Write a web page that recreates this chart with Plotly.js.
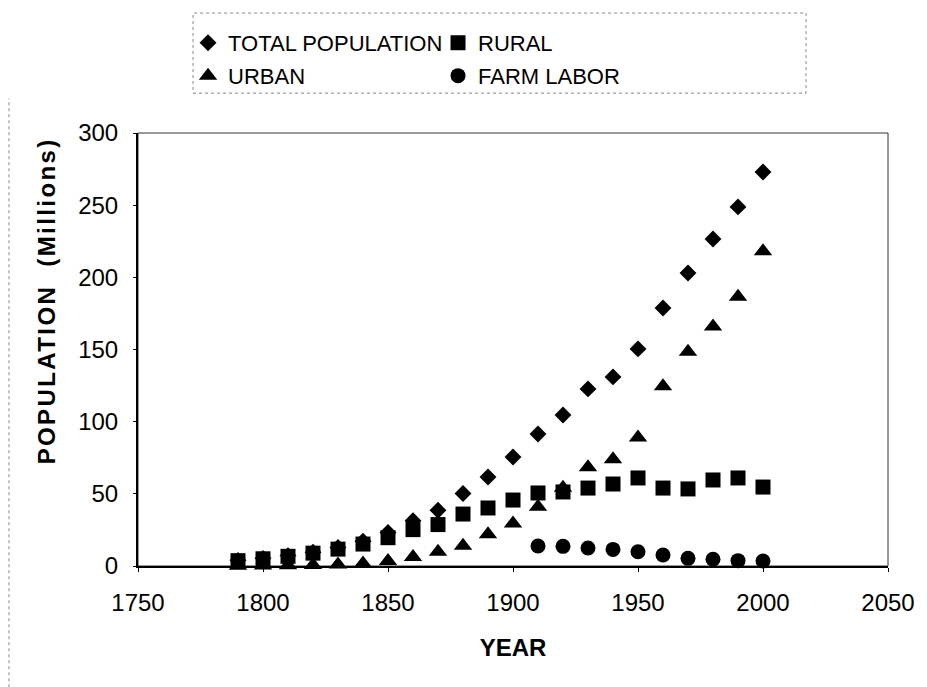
<!DOCTYPE html>
<html>
<head>
<meta charset="utf-8">
<script src="https://cdn.plot.ly/plotly-3.0.1.min.js"></script>
<style>
html,body{margin:0;padding:0;background:#fff;}
#chart{width:927px;height:687px;}
.ytitle-ann text{letter-spacing:2.4px;}
</style>
</head>
<body>
<div id="chart"></div>
<script>
// Data
var years = [1790,1800,1810,1820,1830,1840,1850,1860,1870,1880,1890,1900,1910,1920,1930,1940,1950,1960,1970,1980,1990,2000];
var totalPopulation = [3.9,5.3,7.2,9.6,12.9,17.1,23.2,31.4,38.6,50.2,61.7,75.5,91.5,104.6,122.7,131.0,150.4,178.8,203.0,226.6,248.8,273.0];
var rural = [3.7,5.0,6.7,8.9,11.7,15.2,19.6,25.2,28.7,36.0,40.2,45.7,50.6,51.3,54.0,56.8,61.0,54.0,53.4,59.6,61.0,54.7];
var urban = [0.2,0.3,0.5,0.7,1.1,1.8,3.5,6.2,9.9,14.1,22.0,29.5,41.0,54.2,68.5,74.0,89.0,124.5,148.5,166.0,186.5,218.0];
var farmYears = [1910,1920,1930,1940,1950,1960,1970,1980,1990,2000];
var farmLabor = [13.9,13.6,12.5,11.5,9.9,7.6,5.3,4.7,3.7,3.5];
var xTicks = [1750,1800,1850,1900,1950,2000,2050];
var yTicks = [0,50,100,150,200,250,300];
var xTitle = 'YEAR';
var yTitle = 'POPULATION&nbsp;&nbsp;(Millions)';

var FONT = '"Liberation Sans", Arial, Helvetica, sans-serif';

var traces = [
  {x: years, y: totalPopulation, name: 'TOTAL POPULATION', type: 'scatter', mode: 'markers', cliponaxis: false,
   marker: {symbol: 'diamond', size: 13, color: '#000'}, legend: 'legend'},
  {x: years, y: rural, name: 'RURAL', type: 'scatter', mode: 'markers', cliponaxis: false,
   marker: {symbol: 'square', size: 15, color: '#000'}, legend: 'legend'},
  {x: years, y: urban, name: 'URBAN', type: 'scatter', mode: 'markers', cliponaxis: false,
   marker: {symbol: 'triangle-up', size: 16, color: '#000'}, legend: 'legend2'},
  {x: farmYears, y: farmLabor, name: 'FARM LABOR', type: 'scatter', mode: 'markers', cliponaxis: false,
   marker: {symbol: 'circle', size: 15, color: '#000'}, legend: 'legend2'}
];

var legendCommon = {
  orientation: 'h', xref: 'paper', yref: 'paper', xanchor: 'left', yanchor: 'middle',
  entrywidth: 205, entrywidthmode: 'pixels', bgcolor: 'rgba(0,0,0,0)', borderwidth: 0,
  font: {family: FONT, size: 22, color: '#000'}, traceorder: 'normal', itemclick: false
};

var layout = {
  width: 927, height: 687,
  paper_bgcolor: '#fff', plot_bgcolor: '#fff',
  margin: {l: 138, r: 39, t: 133, b: 121},
  font: {family: FONT, color: '#000'},
  showlegend: true,
  legend: Object.assign({}, legendCommon, {x: 0.0667, y: 1.208}),
  legend2: Object.assign({}, legendCommon, {x: 0.0667, y: 1.132}),
  xaxis: {
    range: [1750, 2050], tickvals: xTicks, ticktext: xTicks.map(String),
    showgrid: false, zeroline: false, showline: true, linecolor: '#000', linewidth: 2,
    ticks: 'outside', ticklen: 4, tickcolor: '#000', tickwidth: 1,
    tickfont: {family: FONT, size: 24, color: '#000'}, ticklabelstandoff: 10,
    title: {text: xTitle, font: {family: FONT, size: 24, color: '#000', weight: 'bold'}, standoff: 24}
  },
  yaxis: {
    range: [0, 300], tickvals: yTicks, ticktext: yTicks.map(String),
    showgrid: false, zeroline: false, showline: true, linecolor: '#000', linewidth: 2,
    ticks: 'outside', ticklen: 3, tickcolor: '#000', tickwidth: 1,
    tickfont: {family: FONT, size: 24, color: '#000'}, ticklabelstandoff: 10
  },
  annotations: [
    {text: yTitle, xref: 'paper', yref: 'paper', x: -0.1227, y: 0.612, xanchor: 'center', yanchor: 'middle',
     textangle: -90, showarrow: false, font: {family: FONT, size: 24, color: '#000', weight: 'bold'},
     name: 'ytitle'}
  ],
  shapes: [
    // thin frame on top/right of plot area
    {type: 'rect', xref: 'paper', yref: 'paper', x0: 0, x1: 1, y0: 0, y1: 1,
     line: {color: '#333', width: 1}, layer: 'below'},
    // legend box
    {type: 'rect', xref: 'paper', yref: 'paper', x0: 0.0734, x1: 0.8907, y0: 1.092, y1: 1.277,
     line: {color: '#888', width: 1, dash: 'dot'}},
    // left page border
    {type: 'line', xref: 'paper', yref: 'paper', x0: -0.172, x1: -0.172, y0: -0.28, y1: 1.08,
     line: {color: '#888', width: 1, dash: 'dot'}}
  ]
};

Plotly.newPlot('chart', traces, layout, {displayModeBar: false, staticPlot: true}).then(function(gd){
  var anns = gd.querySelectorAll('.annotation-text-g');
  if (anns.length) anns[0].classList.add('ytitle-ann');
});
</script>
</body>
</html>
